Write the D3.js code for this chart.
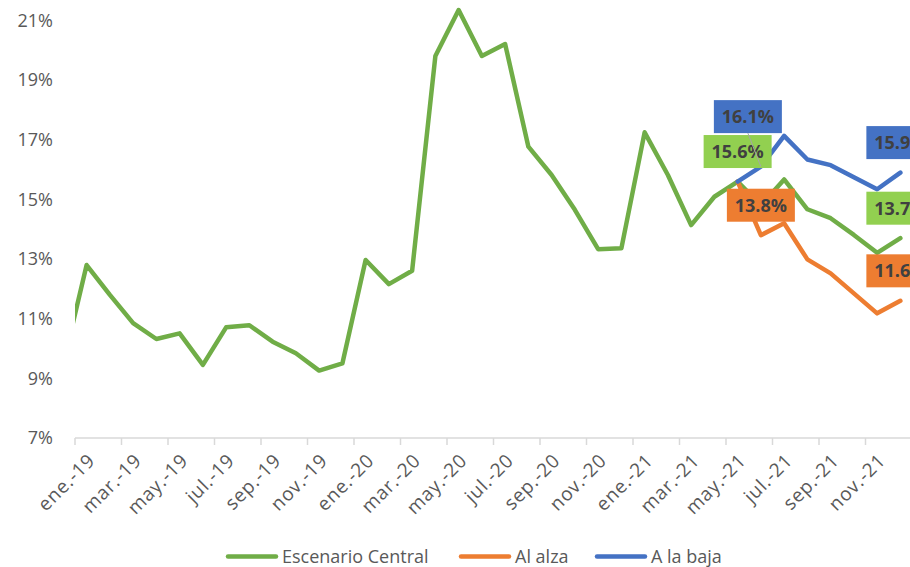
<!DOCTYPE html>
<html>
<head>
<meta charset="utf-8">
<script src="https://cdn.jsdelivr.net/npm/d3@7"></script>
<style>
  html, body { margin: 0; padding: 0; background: #fff; }
  svg { display: block; font-family: "Open Sans", "Noto Sans", sans-serif; }
</style>
</head>
<body>
<svg id="chart" width="910" height="567"></svg>
<script>
// Monthly categories (the first month only feeds the line entering the plot)
const months = [
  "dic.-18",
  "ene.-19","feb.-19","mar.-19","abr.-19","may.-19","jun.-19","jul.-19","ago.-19","sep.-19","oct.-19","nov.-19","dic.-19",
  "ene.-20","feb.-20","mar.-20","abr.-20","may.-20","jun.-20","jul.-20","ago.-20","sep.-20","oct.-20","nov.-20","dic.-20",
  "ene.-21","feb.-21","mar.-21","abr.-21","may.-21","jun.-21","jul.-21","ago.-21","sep.-21","oct.-21","nov.-21","dic.-21"
];

// Escenario Central (%), dic.-18 .. dic.-21
const central = [
  9.5,
  12.8, 11.8, 10.85, 10.32, 10.51, 9.45, 10.71, 10.78, 10.23, 9.84, 9.26, 9.5,
  12.97, 12.16, 12.61, 19.81, 21.35, 19.81, 20.21, 16.77, 15.82, 14.65, 13.33, 13.36,
  17.25, 15.82, 14.14, 15.09, 15.6, 14.8, 15.67, 14.67, 14.37, 13.81, 13.21, 13.7
];

// Alternative scenarios from may.-21 to dic.-21
const scenarioMonths = ["may.-21","jun.-21","jul.-21","ago.-21","sep.-21","oct.-21","nov.-21","dic.-21"];
const alza = [15.6, 13.8, 14.2, 12.99, 12.52, 11.85, 11.18, 11.6];
const baja = [15.6, 16.1, 17.13, 16.34, 16.15, 15.74, 15.34, 15.9];

const yTicks = [7, 9, 11, 13, 15, 17, 19, 21];

const seriesNames = ["Escenario Central", "Al alza", "A la baja"];
const seriesColors = ["#70AD47", "#ED7D31", "#4472C4"];
const labelFills = ["#92D050", "#ED7D31", "#4472C4"];

// Data labels: [series index, month]
const labelPoints = [
  [0, "may.-21"], [1, "jun.-21"], [2, "jun.-21"],
  [0, "dic.-21"], [1, "dic.-21"], [2, "dic.-21"]
];

const svg = d3.select("#chart");
const plotLeft = 75, plotRight = 912, plotTop = 20.5, plotBottom = 438;
const step = (plotRight - plotLeft) / (months.length - 1);

const x = d3.scaleBand()
  .domain(months)
  .range([plotLeft - step, plotRight])
  .padding(0);
const xc = m => x(m) + x.bandwidth() / 2;

const y = d3.scaleLinear().domain([7, 21]).range([plotBottom, plotTop]);

const axisColor = "#D9D9D9";
const textColor = "#595959";

// Y axis labels
svg.append("g")
  .selectAll("text")
  .data(yTicks)
  .join("text")
  .attr("x", 53)
  .attr("y", d => y(d))
  .attr("dy", "0.35em")
  .attr("text-anchor", "end")
  .attr("font-size", 18)
  .attr("fill", textColor)
  .text(d => d + "%");

// X axis: line, tick marks every two months, rotated labels
const visibleMonths = months.slice(1);
const xAxis = svg.append("g");
xAxis.append("line")
  .attr("x1", plotLeft).attr("x2", plotRight)
  .attr("y1", plotBottom).attr("y2", plotBottom)
  .attr("stroke", axisColor).attr("stroke-width", 1.5);

const tickMonths = visibleMonths.filter((m, i) => i % 2 === 0);
xAxis.selectAll("line.tick")
  .data(tickMonths)
  .join("line")
  .attr("class", "tick")
  .attr("x1", d => x(d)).attr("x2", d => x(d))
  .attr("y1", plotBottom).attr("y2", plotBottom + 7)
  .attr("stroke", axisColor).attr("stroke-width", 1.5);

xAxis.selectAll("text")
  .data(tickMonths)
  .join("text")
  .attr("transform", d => `translate(${xc(d) + 5},${plotBottom + 19}) rotate(-45)`)
  .attr("text-anchor", "end")
  .attr("dy", "0.35em")
  .attr("font-size", 19)
  .attr("letter-spacing", 0.8)
  .attr("fill", textColor)
  .text(d => d);

// Clip lines to the plot area
svg.append("clipPath").attr("id", "plotClip")
  .append("rect")
  .attr("x", plotLeft).attr("y", 0)
  .attr("width", 910 - plotLeft).attr("height", plotBottom);

const line = d3.line()
  .x(d => xc(d.m))
  .y(d => y(d.v));

const seriesData = [
  months.map((m, i) => ({ m, v: central[i] })),
  scenarioMonths.map((m, i) => ({ m, v: alza[i] })),
  scenarioMonths.map((m, i) => ({ m, v: baja[i] }))
];

const linesG = svg.append("g").attr("clip-path", "url(#plotClip)");
[0, 1, 2].forEach(si => {
  linesG.append("path")
    .datum(seriesData[si])
    .attr("fill", "none")
    .attr("stroke", seriesColors[si])
    .attr("stroke-width", 4.5)
    .attr("stroke-linejoin", "round")
    .attr("stroke-linecap", "round")
    .attr("d", line);
});

// Data labels
const labelsG = svg.append("g");
const boxW = 68, boxH = 33, rise = 30;
labelPoints.forEach(([si, m]) => {
  const d = seriesData[si].find(p => p.m === m);
  const px = xc(m), py = y(d.v);
  let cx = px, cy = py - rise;
  // the upper-scenario label at jun.-21 is lifted clear, with a leader line
  if (si === 2 && m === "jun.-21") {
    cx = px - 13; cy = py - 50;
    labelsG.append("line")
      .attr("x1", cx).attr("y1", cy + boxH / 2)
      .attr("x2", px).attr("y2", py)
      .attr("stroke", "#A6A6A6").attr("stroke-width", 1);
  }
  labelsG.append("rect")
    .attr("x", cx - boxW / 2).attr("y", cy - boxH / 2)
    .attr("width", boxW).attr("height", boxH)
    .attr("fill", labelFills[si]);
  labelsG.append("text")
    .attr("x", cx).attr("y", cy)
    .attr("dy", "0.36em")
    .attr("text-anchor", "middle")
    .attr("font-size", 18)
    .attr("font-weight", "bold")
    .attr("fill", "#404040")
    .text(d3.format(".1f")(d.v) + "%");
});

// Legend
const legendX = [228, 461, 597];
const legendG = svg.append("g");
seriesNames.forEach((name, i) => {
  const g = legendG.append("g").attr("transform", `translate(${legendX[i]},556.5)`);
  g.append("line")
    .attr("x1", 0).attr("x2", 48)
    .attr("stroke", seriesColors[i]).attr("stroke-width", 4.5)
    .attr("stroke-linecap", "round");
  g.append("text")
    .attr("x", 54).attr("dy", "0.35em")
    .attr("font-size", 18)
    .attr("fill", textColor)
    .text(name);
});
</script>
</body>
</html>
